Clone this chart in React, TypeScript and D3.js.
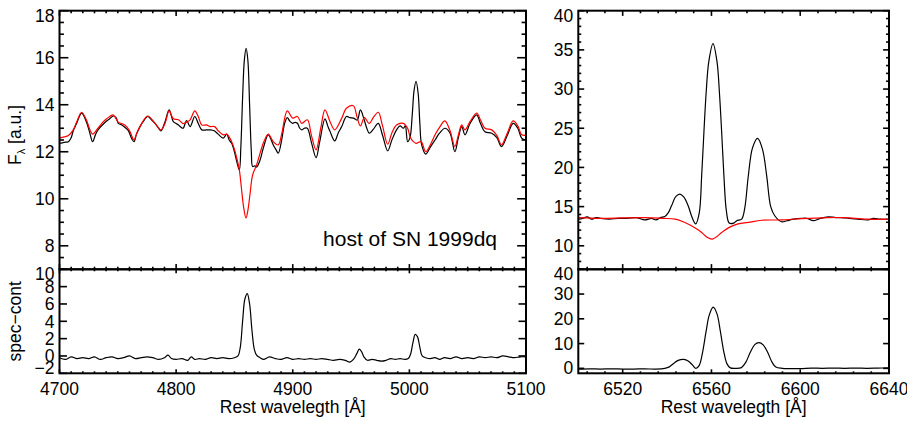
import React from "react";
import * as d3 from "d3";

type Pt = [number, number];

const hostLabel = "host of SN 1999dq";
const xTitle = "Rest wavelegth [Å]";
const yTitleTop = "F";
const yTitleTopSub = "λ";
const yTitleTopRest = " [a.u.]";
const yTitleBottom = "spec−cont";

// H-beta / [OIII] region : observed spectrum
const hbSpectrum: Pt[] = [
  [4700,12.36],[4704,12.40],[4707.6,12.43],[4710,12.6],[4711.8,12.89],[4715,13.25],[4719,13.64],[4723,13.28],[4726,12.8],[4728.4,12.43],[4731,12.75],[4733,12.93],[4737,13.15],[4740.4,13.31],[4743,13.4],[4746,13.52],[4748.5,13.45],[4750.4,13.21],[4753,13.15],[4756,13.04],[4759,12.9],[4762,12.55],[4763.9,12.43],[4766,12.75],[4769,13.07],[4772,13.3],[4775.6,13.5],[4779,13.35],[4781.9,13.21],[4785,13.0],[4787,12.89],[4790.5,13.28],[4794,13.78],[4797.6,13.28],[4800,13.2],[4802,13.14],[4804,13.05],[4806,13.0],[4809,13.33],[4812,13.07],[4816,13.5],[4819,13.2],[4822,12.93],[4826,12.93],[4829,12.93],[4832.7,12.89],[4836,12.75],[4840.4,12.58],[4843.4,12.75],[4845.5,12.5],[4847.6,12.36],[4850,12.0],[4852,11.58],[4854.2,11.23],[4855.5,12.2],[4857,14.3],[4858.5,15.9],[4860,16.4],[4861.5,15.9],[4863,14.0],[4864.5,12.0],[4865.6,11.37],[4867.5,11.4],[4869,11.35],[4872,11.65],[4875,12.2],[4879,12.72],[4883.3,12.29],[4885.5,12.1],[4887.6,11.94],[4890.5,12.5],[4893,13.2],[4895.3,13.45],[4897.5,13.3],[4900,13.21],[4902,13.25],[4904,13.21],[4906,13.0],[4907.7,12.93],[4910,13.0],[4912.5,13.0],[4916,12.4],[4920,11.75],[4923,12.4],[4927.6,13.4],[4930,13.1],[4932,12.86],[4936,12.46],[4939,12.8],[4942,13.07],[4946,13.5],[4949,13.45],[4952,13.43],[4955.3,13.35],[4958,13.78],[4961,13.4],[4963.5,13.0],[4965.6,12.79],[4969,12.95],[4973.3,13.21],[4977,12.7],[4981.4,12.04],[4985,12.5],[4989,12.93],[4992,13.1],[4994.8,13.0],[4996.5,13.1],[4998.5,12.43],[5000.5,12.6],[5002.5,13.6],[5004,14.6],[5005.7,15.0],[5007.5,14.5],[5009,13.2],[5010.5,12.3],[5014,11.9],[5018,12.2],[5022,12.5],[5026,12.8],[5030.5,13.0],[5034.8,12.8],[5039,12.0],[5042,12.6],[5044.9,13.07],[5047.7,12.72],[5052,13.2],[5057.7,13.57],[5061,13.2],[5064.8,12.85],[5070.6,12.79],[5075,12.6],[5079,12.22],[5084,12.7],[5089,13.21],[5093,13.0],[5096.3,12.58],[5100,12.5]
];

// H-beta / [OIII] region : stellar continuum model
const hbModel: Pt[] = [
  [4700,12.58],[4704,12.63],[4707.6,12.69],[4711.8,12.93],[4715,13.3],[4719,13.68],[4723,13.36],[4726,12.95],[4728.4,12.75],[4733,13.0],[4737,13.25],[4740.4,13.4],[4746,13.57],[4750.4,13.26],[4756,13.14],[4760,12.9],[4763.9,12.5],[4766,12.75],[4769,13.07],[4775.6,13.52],[4781.9,13.21],[4787,12.93],[4790.5,13.2],[4794,13.74],[4797.6,13.4],[4802,13.36],[4806,13.2],[4809,13.26],[4812,13.36],[4816,13.74],[4819,13.5],[4822,13.14],[4826,13.14],[4829,13.07],[4833,13.07],[4836,12.9],[4840.4,12.72],[4843.4,12.75],[4847.6,12.43],[4850,12.1],[4852,11.73],[4854.2,11.23],[4856,10.45],[4858,9.6],[4859.9,9.18],[4861.5,9.5],[4863.3,10.17],[4865.6,11.02],[4869,11.44],[4872,11.94],[4875,12.4],[4879,12.75],[4883.3,12.43],[4887.6,12.29],[4890.5,12.75],[4895.3,13.74],[4900,13.43],[4904,13.5],[4907.7,13.21],[4912.5,13.36],[4916,12.7],[4920,12.08],[4924,13.0],[4927.6,13.78],[4932,13.28],[4936,12.93],[4942,13.43],[4946,13.85],[4952,13.96],[4955,13.5],[4958,13.1],[4961.5,13.45],[4965.5,13.2],[4969,13.45],[4973.3,13.68],[4977,13.1],[4981.4,12.32],[4985,12.8],[4989,13.14],[4994.8,13.21],[4998.5,13.0],[5000.5,12.65],[5003,12.45],[5005.7,12.36],[5010,12.43],[5014,12.0],[5018,12.3],[5022,12.72],[5026,13.05],[5030.5,13.31],[5034.8,12.9],[5039,12.22],[5042,12.7],[5044.9,13.14],[5047.7,12.93],[5052,13.28],[5057.7,13.64],[5061,13.35],[5064.8,13.0],[5070.6,12.93],[5075,12.7],[5079,12.29],[5084,12.8],[5089,13.31],[5093,13.1],[5096.3,12.72],[5100,12.7]
];

// H-beta / [OIII] region : spectrum minus continuum
const hbResidual: Pt[] = [
  [4700,-0.2],[4705,-0.4],[4710,-0.1],[4715,-0.3],[4720,-0.2],[4725,-0.3],[4730,-0.1],[4735,-0.4],[4740,-0.2],[4745,-0.1],[4750,-0.3],[4755,-0.2],[4760,0.0],[4765,-0.3],[4770,-0.2],[4775,-0.1],[4780,-0.2],[4785,-0.4],[4790,-0.2],[4793,0.1],[4796,-0.3],[4800,-0.4],[4805,-0.3],[4810,-0.5],[4813,-0.1],[4816,-0.4],[4820,-0.3],[4825,-0.4],[4830,-0.2],[4835,-0.3],[4840,-0.2],[4845,-0.3],[4850,-0.2],[4853,0.0],[4855,1.0],[4857,4.0],[4859,6.6],[4861,7.2],[4863,6.0],[4865,3.0],[4867,0.8],[4869,0.1],[4872,-0.2],[4875,-0.4],[4880,-0.1],[4885,-0.3],[4890,-0.4],[4895,-0.2],[4900,-0.4],[4905,-0.3],[4910,-0.4],[4915,-0.3],[4920,-0.4],[4925,-0.3],[4930,-0.4],[4935,-0.5],[4940,-0.4],[4945,-0.5],[4949,-0.7],[4952,-0.4],[4955,0.3],[4957,0.8],[4959,0.5],[4961,-0.1],[4964,-0.5],[4968,-0.4],[4972,-0.5],[4976,-0.6],[4980,-0.5],[4984,-0.3],[4988,-0.4],[4992,-0.3],[4996,-0.4],[4999,-0.3],[5001,0.2],[5003,1.5],[5005,2.5],[5007,2.2],[5009,1.0],[5011,0.0],[5014,-0.2],[5018,-0.3],[5022,-0.2],[5026,-0.4],[5030,-0.2],[5035,-0.3],[5040,-0.1],[5045,-0.3],[5050,-0.2],[5055,-0.3],[5060,-0.1],[5065,-0.2],[5070,-0.1],[5075,-0.2],[5080,0.0],[5085,-0.1],[5090,-0.2],[5095,-0.1],[5100,-0.1]
];

// H-alpha / [NII] region : observed spectrum
const haSpectrum: Pt[] = [
  [6500,13.4],[6502,13.5],[6504,13.7],[6506,13.4],[6508,13.6],[6510,13.5],[6514,13.4],[6518,13.5],[6522,13.5],[6526,13.6],[6530,13.3],[6533,13.5],[6535,13.3],[6537,13.6],[6539,13.75],[6540.5,14.2],[6542,15.1],[6544,16.3],[6545.8,16.6],[6547.6,16.2],[6549.5,15.1],[6551.3,13.6],[6552.9,12.8],[6554.5,14.2],[6555.6,19],[6556.6,24.5],[6557.6,29.5],[6558.8,33.5],[6560.7,35.8],[6562.5,33.5],[6563.6,29.5],[6564.6,24.5],[6565.6,19],[6566.7,14.5],[6568,12.9],[6570,12.9],[6571.4,13.2],[6573.6,13.4],[6575,14.8],[6576.6,18.9],[6578.5,22.5],[6580.8,23.7],[6583,22.3],[6584.9,18.9],[6586.7,15.0],[6588.6,13.8],[6591.6,13.07],[6594,13.2],[6597,13.4],[6600.6,13.5],[6603,13.5],[6605.9,13.2],[6609,13.5],[6612.6,13.7],[6616,13.6],[6618.6,13.6],[6622,13.5],[6626,13.4],[6630.6,13.3],[6633,13.5],[6636,13.4],[6640,13.4]
];

// H-alpha / [NII] region : stellar continuum model
const haModel: Pt[] = [
  [6500,13.6],[6510,13.5],[6520,13.55],[6530,13.6],[6538,13.5],[6543.6,13.4],[6547,13.1],[6549.5,12.77],[6552.5,12.3],[6555.6,11.7],[6558,11.1],[6560.4,10.86],[6562.5,11.2],[6564.6,11.7],[6568,12.35],[6572,12.8],[6576.6,12.98],[6582.6,13.26],[6591.6,13.3],[6600.6,13.47],[6612.6,13.6],[6620,13.6],[6630,13.4],[6640,13.4]
];

// H-alpha / [NII] region : spectrum minus continuum
const haResidual: Pt[] = [
  [6500,-0.3],[6505,-0.2],[6510,-0.3],[6515,-0.2],[6520,-0.3],[6525,-0.3],[6530,-0.2],[6535,-0.3],[6539,0.0],[6541,0.6],[6543,2.0],[6545,3.2],[6547.5,3.6],[6549.5,3.0],[6551.5,1.3],[6553,0.0],[6554.5,1.2],[6556,6.5],[6557.6,15],[6559,21.5],[6560.8,24.7],[6562.5,22],[6564,15],[6565.5,7],[6567,1.8],[6568.5,0.2],[6571,0.0],[6573.5,0.3],[6575.5,2.5],[6577.5,6.5],[6579.5,9.6],[6581.4,10.4],[6583.3,9.5],[6585.3,6.5],[6587.3,2.5],[6589,0.5],[6592,0.0],[6600,-0.1],[6605,0.1],[6610,0.0],[6615,0.1],[6620,0.0],[6625,0.1],[6630,0.0],[6635,0.1],[6640,0.2]
];

// axis tick labels
const hbXTicks = [4700, 4800, 4900, 5000, 5100];
const haXTicks = [6520, 6560, 6600, 6640];
const hbTopYTicks = [8, 10, 12, 14, 16, 18];
const hbBotYTicks = [-2, 0, 2, 4, 6, 8, 10];
const haTopYTicks = [10, 15, 20, 25, 30, 35, 40];
const haBotYTicks = [0, 10, 20, 30, 40];

const FONT = "'Liberation Sans', Arial, Helvetica, sans-serif";
const W = 907;
const H = 421;

const LX0 = 59.5, LX1 = 526;
const RX0 = 578.3, RX1 = 889;
const TY0 = 10.7, MY = 269.3, BY1 = 373.3;

function minorTicks(domain: number[], step: number, majors: number[]) {
  const a = Math.min(domain[0], domain[1]);
  const b = Math.max(domain[0], domain[1]);
  const out: number[] = [];
  const start = Math.ceil(a / step - 1e-9);
  const end = Math.floor(b / step + 1e-9);
  for (let i = start; i <= end; i++) {
    const v = Math.round(i * step * 1000) / 1000;
    if (!majors.some((m) => Math.abs(m - v) < 1e-6)) out.push(v);
  }
  return out;
}

type PanelProps = {
  id: string;
  x: d3.ScaleLinear<number, number>;
  y: d3.ScaleLinear<number, number>;
  xMajor: number[];
  xMinorStep: number;
  yMajor: number[];
  yMinorStep: number | null;
  xLabels: boolean;
  xTickLen: number;
  yTickLen: number;
  series: { data: Pt[]; color: string }[];
};

function Panel(p: PanelProps) {
  const [x0, x1] = p.x.range();
  const [y1, y0] = p.y.range();
  const line = d3
    .line<Pt>()
    .x((d) => p.x(d[0]))
    .y((d) => p.y(d[1]))
    .curve(d3.curveCatmullRom.alpha(0.5));
  const xMin = minorTicks(p.x.domain(), p.xMinorStep, p.xMajor);
  const yMin = p.yMinorStep ? minorTicks(p.y.domain(), p.yMinorStep, p.yMajor) : [];
  const tw = 1.6;
  const xt = (v: number, len: number, k: string) => (
    <g key={k}>
      <line x1={p.x(v)} x2={p.x(v)} y1={y0} y2={y0 + len} stroke="#000" strokeWidth={tw} />
      <line x1={p.x(v)} x2={p.x(v)} y1={y1} y2={y1 - len} stroke="#000" strokeWidth={tw} />
    </g>
  );
  const yt = (v: number, len: number, k: string) => (
    <g key={k}>
      <line x1={x0} x2={x0 + len} y1={p.y(v)} y2={p.y(v)} stroke="#000" strokeWidth={tw} />
      <line x1={x1} x2={x1 - len} y1={p.y(v)} y2={p.y(v)} stroke="#000" strokeWidth={tw} />
    </g>
  );
  return (
    <g>
      <defs>
        <clipPath id={p.id}>
          <rect x={x0} y={y0} width={x1 - x0} height={y1 - y0} />
        </clipPath>
      </defs>
      <g clipPath={`url(#${p.id})`}>
        {p.series.map((s, i) => (
          <path key={i} d={line(s.data) || ""} fill="none" stroke={s.color} strokeWidth={1.2} />
        ))}
      </g>
      {xMin.map((v, i) => xt(v, p.xTickLen / 2, "xm" + i))}
      {p.xMajor.map((v, i) => xt(v, p.xTickLen, "xM" + i))}
      {yMin.map((v, i) => yt(v, p.yTickLen / 2, "ym" + i))}
      {p.yMajor.map((v, i) => yt(v, p.yTickLen, "yM" + i))}
      <rect x={x0} y={y0} width={x1 - x0} height={y1 - y0} fill="none" stroke="#000" strokeWidth={2} />
      {p.yMajor.map((v, i) => {
        const cy = Math.min(Math.max(p.y(v), y0 + 4.5), y1 - 5.5);
        return (
          <text key={"yl" + i} x={x0 - 5} y={cy} dy="0.36em" textAnchor="end" fontSize={17.5} fontFamily={FONT}>
            {v < 0 ? "−" + Math.abs(v) : String(v)}
          </text>
        );
      })}
      {p.xLabels &&
        p.xMajor.map((v, i) => (
          <text key={"xl" + i} x={p.x(v)} y={y1 + 21.7} textAnchor="middle" fontSize={17.5} fontFamily={FONT}>
            {String(v)}
          </text>
        ))}
    </g>
  );
}

export default function App() {
  const xL = d3.scaleLinear().domain([4700, 5100]).range([LX0, LX1]);
  const xR = d3.scaleLinear().domain([6500, 6640]).range([RX0, RX1]);
  const yLT = d3.scaleLinear().domain([7, 18]).range([MY, TY0]);
  const yLB = d3.scaleLinear().domain([-2, 10]).range([BY1, MY]);
  const yRT = d3.scaleLinear().domain([7, 40]).range([MY, TY0]);
  const yRB = d3.scaleLinear().domain([-2, 40]).range([BY1, MY]);

  const lw = LX1 - LX0;
  const rw = RX1 - RX0;

  return (
    <svg
      width={W}
      height={H}
      viewBox={`0 0 ${W} ${H}`}
      style={{ position: "absolute", left: 0, top: 0, background: "#fff" }}
    >
      <rect x={0} y={0} width={W} height={H} fill="#fff" />
      <Panel id="clipLT" x={xL} y={yLT} xMajor={hbXTicks} xMinorStep={10} yMajor={hbTopYTicks} yMinorStep={0.5}
        xLabels={false} xTickLen={5.2} yTickLen={0.019 * lw}
        series={[{ data: hbSpectrum, color: "#000" }, { data: hbModel, color: "#ff0000" }]} />
      <Panel id="clipLB" x={xL} y={yLB} xMajor={hbXTicks} xMinorStep={10} yMajor={hbBotYTicks} yMinorStep={null}
        xLabels={true} xTickLen={4} yTickLen={0.016 * lw}
        series={[{ data: hbResidual, color: "#000" }]} />
      <Panel id="clipRT" x={xR} y={yRT} xMajor={haXTicks} xMinorStep={8} yMajor={haTopYTicks} yMinorStep={1}
        xLabels={false} xTickLen={5.2} yTickLen={0.019 * rw}
        series={[{ data: haSpectrum, color: "#000" }, { data: haModel, color: "#ff0000" }]} />
      <Panel id="clipRB" x={xR} y={yRB} xMajor={haXTicks} xMinorStep={8} yMajor={haBotYTicks} yMinorStep={null}
        xLabels={true} xTickLen={4} yTickLen={0.019 * rw}
        series={[{ data: haResidual, color: "#000" }]} />

      <text x={LX1 - 29} y={246} textAnchor="end" fontSize={21} fontFamily={FONT}>{hostLabel}</text>

      <text x={(LX0 + LX1) / 2} y={413} textAnchor="middle" fontSize={17.5} fontFamily={FONT}>{xTitle}</text>
      <text x={(RX0 + RX1) / 2} y={413} textAnchor="middle" fontSize={17.5} fontFamily={FONT}>{xTitle}</text>

      <text transform={`translate(20.5, ${(TY0 + MY) / 2 - 5}) rotate(-90)`} textAnchor="middle" fontSize={17.5} fontFamily={FONT}>
        {yTitleTop}
        <tspan fontSize={11} dy={4}>{yTitleTopSub}</tspan>
        <tspan dy={-4}>{yTitleTopRest}</tspan>
      </text>
      <text transform={`translate(20.5, ${(MY + BY1) / 2}) rotate(-90)`} textAnchor="middle" fontSize={17.5} fontFamily={FONT}>
        {yTitleBottom}
      </text>
    </svg>
  );
}
